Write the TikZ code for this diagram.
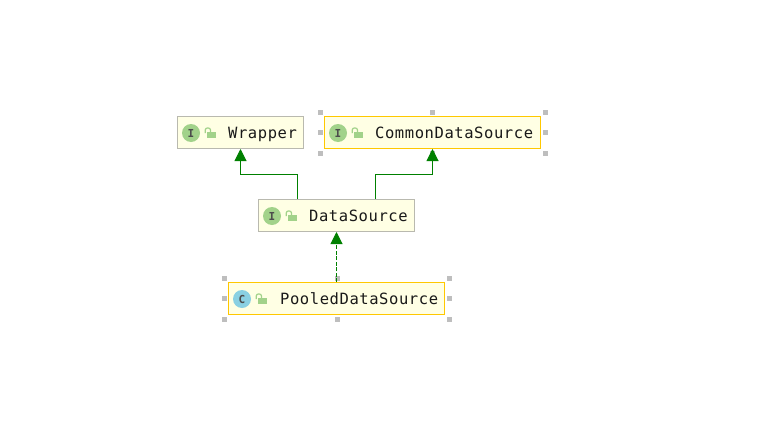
\documentclass[tikz,border=0pt]{standalone}
\usepackage{fontspec}
\setmonofont[LetterSpace=3.7]{DejaVu Sans Mono}
\usetikzlibrary{arrows.meta,positioning}
\definecolor{boxfill}{RGB}{255,255,228}
\definecolor{boxline}{RGB}{185,185,175}
\definecolor{selline}{RGB}{255,200,0}
\definecolor{arrowgreen}{RGB}{0,128,0}
\definecolor{ifacegreen}{RGB}{162,210,138}
\definecolor{classblue}{RGB}{138,208,226}
\definecolor{handlegrey}{RGB}{190,190,190}
\tikzset{
  plainbox/.style={draw=boxline,fill=boxfill,line width=1pt,inner sep=0pt,minimum height=32pt},
  selbox/.style={plainbox,draw=selline},
  boxtext/.style={anchor=base west,inner sep=0pt,font=\ttfamily\fontsize{15.5}{15.5}\selectfont,text=black!90},
  iconbase/.style={circle,inner sep=0pt,minimum size=18pt,font=\ttfamily\bfseries\fontsize{11}{11}\selectfont,text=black!70},
  ifaceicon/.style={iconbase,fill=ifacegreen},
  classicon/.style={iconbase,fill=classblue},
  handle/.style={fill=handlegrey,inner sep=0pt,minimum size=5pt},
  extends/.style={draw=arrowgreen,line width=1pt,-{Triangle[width=12pt,length=12pt]}},
  implements/.style={extends,dash pattern=on 4pt off 1.5pt},
  openlock/.pic={
    \fill[ifacegreen] (-3,1) rectangle (5.5,-5);
    \draw[ifacegreen,line width=1.2pt] (-4.8,0) -- (-4.8,3) .. controls (-4.8,5.8) and (0.5,5.8) .. (0.5,3) -- (0.5,1);
  }
}
\begin{document}
\begin{tikzpicture}[x=1pt,y=1pt,yscale=-1,xscale=1]
\useasboundingbox (0,0) rectangle (768,447);

%Selection handles
\foreach \hx/\hy in {320.5/112.5,432.5/112.5,545.5/112.5,320.5/132.5,545.5/132.5,320.5/153.5,432.5/153.5,545.5/153.5,
  224.5/278.5,337/278.5,449.5/278.5,224.5/298.5,449.5/298.5,224.5/319.5,337/319.5,449.5/319.5}
  \node [handle] at (\hx,\hy) {};

%Boxes
\node [plainbox,minimum width=126pt] (wrapper) at (240.5,132.5) {};
\node [selbox,minimum width=216pt] (commonDataSource) at (432.5,132.5) {};
\node [plainbox,minimum width=156pt] (dataSource) at (336.5,215.5) {};
\node [selbox,minimum width=216pt] (pooledDataSource) at (336.5,298.5) {};

%Icons
\node [ifaceicon] (wrapperIcon) at (191,133) {I};
\node [ifaceicon] (commonIcon) at (338,133) {I};
\node [ifaceicon] (dataSourceIcon) at (272,216) {I};
\node [classicon] (pooledIcon) at (242,299) {C};

%Locks
\pic at (210,133) {openlock};
\pic at (357,133) {openlock};
\pic at (291,216) {openlock};
\pic at (261,299) {openlock};

% Text Node
\node [boxtext] (wrapperText) at (228,138) {Wrapper};
\node [boxtext] (commonText) at (375,138) {CommonDataSource};
\node [boxtext] (dataSourceText) at (309,221) {DataSource};
\node [boxtext] (pooledText) at (280,304) {PooledDataSource};

%Connectors
\coordinate (leftBend) at (297.5,174.5);
\coordinate (rightBend) at (375.5,174.5);
\draw [extends] (leftBend |- dataSource.north) -- (leftBend) -| (wrapper.south);
\draw [extends] (rightBend |- dataSource.north) -- (rightBend) -| (commonDataSource.south);
\draw [implements] (pooledDataSource.north) -- (dataSource.south);
\end{tikzpicture}
\end{document}
